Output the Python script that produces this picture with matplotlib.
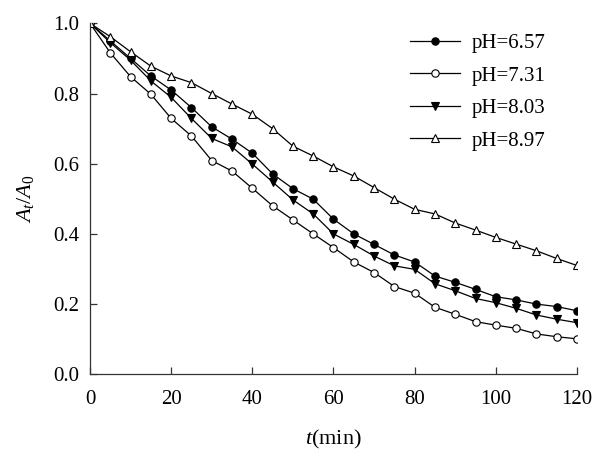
import numpy as np
import matplotlib
matplotlib.use("Agg")
import matplotlib.pyplot as plt

plt.rcParams['font.family'] = ['Liberation Serif', 'DejaVu Serif']
plt.rcParams['mathtext.fontset'] = 'custom'
plt.rcParams['mathtext.rm'] = 'Liberation Serif'
plt.rcParams['mathtext.it'] = 'Liberation Serif:italic'

# ------------------------------------------------------------------
# Data
# ------------------------------------------------------------------
time_min = [0, 5, 10, 15, 20, 25, 30, 35, 40, 45, 50, 55, 60,
            65, 70, 75, 80, 85, 90, 95, 100, 105, 110, 115, 120]

ph_657 = [1.00, 0.95, 0.90, 0.85, 0.81, 0.76, 0.705, 0.67, 0.63, 0.571, 0.529, 0.499, 0.442,
          0.400, 0.370, 0.340, 0.320, 0.280, 0.262, 0.242, 0.221, 0.212, 0.200, 0.193, 0.181]
ph_731 = [1.00, 0.916, 0.848, 0.798, 0.729, 0.679, 0.609, 0.579, 0.530, 0.480, 0.440, 0.400, 0.361,
          0.320, 0.290, 0.250, 0.231, 0.191, 0.171, 0.150, 0.140, 0.131, 0.115, 0.107, 0.101]
ph_803 = [1.00, 0.945, 0.895, 0.836, 0.789, 0.729, 0.672, 0.648, 0.599, 0.548, 0.497, 0.457, 0.400,
          0.370, 0.337, 0.309, 0.299, 0.258, 0.238, 0.216, 0.204, 0.188, 0.169, 0.157, 0.147]
ph_897 = [1.00, 0.962, 0.919, 0.878, 0.850, 0.831, 0.800, 0.770, 0.741, 0.700, 0.650, 0.622, 0.591,
          0.565, 0.532, 0.499, 0.470, 0.457, 0.431, 0.411, 0.390, 0.371, 0.352, 0.330, 0.310]

labels = ["pH=6.57", "pH=7.31", "pH=8.03", "pH=8.97"]

# ------------------------------------------------------------------ plotting
fig = plt.figure(figsize=(5.95, 4.58), dpi=100)
ax = fig.add_axes([0.1513, 0.1828, 0.8184, 0.7662])

common = dict(color='black', linewidth=0.9, markeredgewidth=0.8)
ax.plot(time_min, ph_657, marker='o', markerfacecolor='black', markersize=5.3, label=labels[0], **common)
ax.plot(time_min, ph_731, marker='o', markerfacecolor='white', markersize=5.3, label=labels[1], **common)
ax.plot(time_min, ph_803, marker='v', markerfacecolor='black', markersize=6.0, label=labels[2], **common)
ax.plot(time_min, ph_897, marker='^', markerfacecolor='white', markersize=6.0, label=labels[3], **common)

ax.set_xlim(0, 120)
ax.set_ylim(0, 1.0)
ax.set_xticks(np.arange(0, 121, 20))
ax.set_yticks(np.arange(0, 1.01, 0.2))
ax.yaxis.set_major_formatter(matplotlib.ticker.FormatStrFormatter('%.1f'))

for side in ['top', 'right']:
    ax.spines[side].set_visible(False)
for side in ['left', 'bottom']:
    ax.spines[side].set_linewidth(0.9)
    ax.spines[side].set_color('#333333')
ax.tick_params(direction='in', length=5, width=0.9, labelsize=15, colors='#333333',
               labelcolor='black')
ax.tick_params(axis='x', pad=11)
ax.tick_params(axis='y', pad=8)

ax.set_xlabel(r'$t$(min)', fontsize=16, labelpad=14)
ax.set_ylabel(r'$A_t/A_0$', fontsize=16, labelpad=12)

ax.legend(loc='upper left', bbox_to_anchor=(0.64, 0.995), frameon=False, fontsize=15,
          handlelength=2.4, labelspacing=0.62, handletextpad=0.55, borderaxespad=0.0)

plt.savefig("out.png", dpi=100)
